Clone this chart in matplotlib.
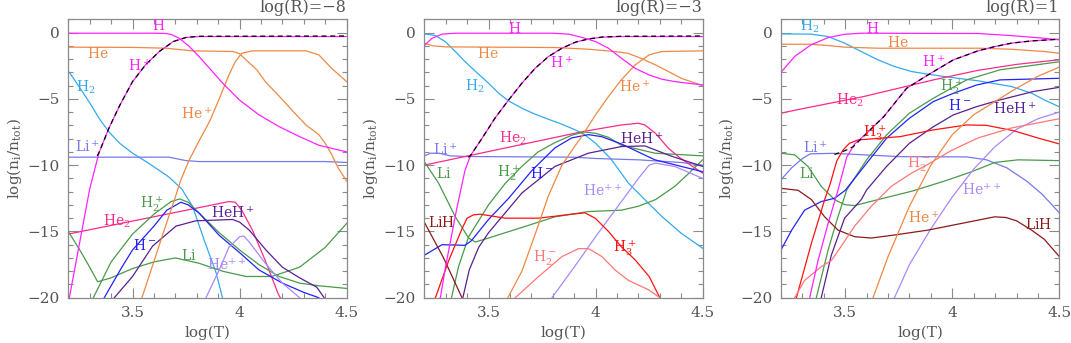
import matplotlib
matplotlib.use("Agg")
import matplotlib.pyplot as plt
from matplotlib.ticker import MultipleLocator

plt.rcParams['font.family'] = ['DejaVu Serif']
plt.rcParams['mathtext.fontset'] = 'dejavuserif'

# ---------------- data: (log T, log n_i/n_tot) ----------------
# Panel 1: log(R) = -8
P1_H = [(3.2,-0.05),(3.4,-0.05),(3.6,-0.05),(3.656,-0.07),(3.68,-0.14),(3.718,-0.43),(3.765,-1.05),(3.81,-1.8),(3.86,-2.7),(3.92,-3.8),(4.0,-5.1),(4.09,-6.2),(4.185,-7.1),(4.28,-7.85),(4.37,-8.5),(4.5,-9.0)]
P1_Hp = [(3.205,-20),(3.25,-16.1),(3.3,-11.8),(3.33,-9.9),(3.345,-9.0),(3.39,-7.2),(3.44,-5.5),(3.5,-3.7),(3.56,-2.45),(3.625,-1.43),(3.69,-0.68),(3.75,-0.37),(3.81,-0.3),(4.5,-0.3)]
P1_e = [(3.335,-9.3),(3.345,-9.0),(3.39,-7.2),(3.44,-5.5),(3.5,-3.7),(3.56,-2.45),(3.625,-1.43),(3.69,-0.68),(3.75,-0.37),(3.81,-0.28),(4.5,-0.26)]
P1_He = [(3.2,-1.1),(3.5,-1.12),(3.656,-1.18),(3.78,-1.38),(3.97,-1.43),(4.0,-1.6),(4.03,-2.06),(4.08,-2.8),(4.12,-3.7),(4.185,-4.8),(4.25,-5.95),(4.31,-6.97),(4.37,-7.7),(4.4,-8.35),(4.43,-9.2),(4.46,-10.2),(4.5,-11.2)]
P1_Hep = [(3.544,-20),(3.6,-17.26),(3.65,-14.8),(3.7,-12.4),(3.726,-11.1),(3.765,-9.6),(3.81,-8.2),(3.86,-6.7),(3.905,-5.0),(3.95,-3.2),(3.98,-2.2),(4.01,-1.56),(4.06,-1.38),(4.31,-1.38),(4.37,-1.68),(4.43,-2.7),(4.5,-3.7)]
P1_H2 = [(3.205,-3.0),(3.25,-4.07),(3.3,-5.3),(3.345,-6.5),(3.39,-7.5),(3.44,-8.35),(3.5,-9.1),(3.56,-9.7),(3.625,-10.4),(3.67,-10.9),(3.71,-11.5),(3.73,-11.8),(3.78,-13.1),(3.84,-15.9),(3.89,-18.1),(3.92,-20)]
P1_Lip = [(3.2,-9.4),(3.67,-9.4),(3.75,-9.66),(3.81,-9.73),(4.4,-9.73),(4.5,-9.8)]
P1_He2 = [(3.2,-15.2),(3.95,-12.75),(3.98,-12.8),(4.01,-13.4),(4.06,-14.9),(4.12,-17.2),(4.18,-19.7),(4.19,-20)]
P1_H2p = [(3.317,-20),(3.4,-17.3),(3.5,-15.2),(3.6,-13.7),(3.68,-12.75),(3.72,-12.55),(3.76,-12.8),(3.81,-13.6),(3.905,-15.1),(4.0,-16.4),(4.09,-17.5),(4.185,-18.4),(4.28,-18.9),(4.37,-19.1),(4.5,-19.3)]
P1_Li = [(3.2,-15.0),(3.25,-16.3),(3.3,-17.7),(3.337,-18.8),(3.4,-18.5),(3.5,-17.8),(3.6,-17.3),(3.7,-17.0),(3.81,-17.4),(3.92,-18.0),(4.03,-18.4),(4.15,-18.4),(4.28,-17.7),(4.4,-16.2),(4.5,-14.4)]
P1_Hm = [(3.368,-20),(3.45,-17.7),(3.5,-16.4),(3.6,-14.6),(3.66,-13.4),(3.726,-12.8),(3.76,-13.0),(3.81,-13.6),(3.905,-15.3),(4.0,-16.6),(4.09,-17.9),(4.2,-18.9),(4.3,-19.6),(4.37,-20)]
P1_HeHp = [(3.415,-20),(3.5,-18.4),(3.594,-16.1),(3.703,-14.6),(3.796,-14.2),(3.967,-14.1),(4.0,-14.3),(4.045,-14.9),(4.123,-16.4),(4.2,-17.7),(4.28,-18.5),(4.36,-19.2),(4.395,-20)]
P1_Hepp = [(3.843,-20),(3.905,-17.9),(3.95,-16.2),(4.0,-15.4),(4.02,-15.35),(4.045,-15.8),(4.12,-17.4),(4.2,-18.9),(4.28,-20)]

# Panel 2: log(R) = -3
P2_H = [(3.2,-0.98),(3.236,-0.43),(3.283,-0.12),(3.345,-0.05),(3.8,-0.05),(3.875,-0.12),(3.94,-0.38),(4.0,-0.68),(4.06,-1.18),(4.12,-1.93),(4.185,-2.7),(4.25,-3.2),(4.31,-3.52),(4.37,-3.7),(4.43,-3.82),(4.5,-3.95)]
P2_Hp = [(3.275,-20),(3.3,-17.6),(3.35,-13.4),(3.39,-10.4),(3.415,-9.3),(3.47,-7.97),(3.53,-6.46),(3.594,-5.08),(3.656,-3.82),(3.718,-2.69),(3.78,-1.81),(3.843,-1.18),(3.905,-0.73),(3.967,-0.48),(4.03,-0.35),(4.12,-0.3),(4.5,-0.3)]
P2_e = [(3.405,-9.4),(3.415,-9.3),(3.47,-7.97),(3.53,-6.46),(3.594,-5.08),(3.656,-3.82),(3.718,-2.69),(3.78,-1.81),(3.843,-1.18),(3.905,-0.73),(3.967,-0.48),(4.03,-0.34),(4.12,-0.28),(4.5,-0.26)]
P2_He = [(3.2,-0.8),(3.24,-1.0),(3.3,-1.08),(3.81,-1.13),(3.97,-1.26),(4.09,-1.43),(4.15,-1.56),(4.21,-1.93),(4.28,-2.44),(4.34,-2.94),(4.4,-3.45),(4.5,-4.0)]
P2_Hep = [(3.59,-20),(3.656,-18.0),(3.718,-15.2),(3.78,-12.3),(3.843,-10.0),(3.875,-9.23),(3.94,-7.72),(4.0,-6.2),(4.06,-4.83),(4.12,-3.57),(4.185,-2.44),(4.25,-1.68),(4.31,-1.43),(4.5,-1.38)]
P2_H2 = [(3.2,-0.1),(3.25,-0.22),(3.298,-0.68),(3.345,-1.43),(3.39,-2.19),(3.44,-2.94),(3.5,-3.82),(3.547,-4.57),(3.594,-5.16),(3.656,-5.71),(3.718,-6.16),(3.78,-6.54),(3.843,-6.92),(3.905,-7.34),(3.95,-7.72),(4.0,-8.35),(4.03,-8.85),(4.07,-9.5),(4.154,-11.37),(4.247,-12.88),(4.31,-13.88),(4.4,-15.14),(4.5,-16.27)]
P2_He2 = [(3.2,-10.0),(3.94,-7.47),(4.12,-6.97),(4.2,-6.84),(4.23,-6.97),(4.28,-7.6),(4.34,-8.73),(4.39,-9.4),(4.43,-9.85),(4.5,-10.6)]
P2_Lip = [(3.2,-9.3),(3.23,-9.1),(3.27,-9.1),(3.32,-9.3),(3.4,-9.35),(3.9,-9.4),(4.0,-9.5),(4.2,-9.6),(4.4,-9.8),(4.5,-10.0)]
P2_Li = [(3.2,-9.74),(3.267,-11.37),(3.345,-13.9),(3.407,-15.5),(3.438,-15.8),(3.5,-15.5),(3.656,-14.7),(3.81,-13.9),(3.967,-13.5),(4.12,-13.4),(4.2,-13.1),(4.28,-12.6),(4.37,-11.6),(4.43,-10.7),(4.5,-9.6)]
P2_H2p = [(3.327,-20),(3.36,-17.65),(3.407,-15.4),(3.5,-13.0),(3.577,-11.4),(3.655,-10.1),(3.732,-9.0),(3.81,-8.3),(3.888,-7.75),(3.946,-7.5),(4.0,-7.6),(4.06,-7.9),(4.12,-8.5),(4.277,-9.1),(4.5,-9.3)]
P2_Hm = [(3.2,-16.8),(3.283,-16.0),(3.39,-16.05),(3.42,-15.7),(3.5,-14.1),(3.594,-12.5),(3.703,-10.4),(3.81,-8.7),(3.888,-7.95),(3.966,-7.7),(4.028,-7.85),(4.12,-8.4),(4.277,-9.6),(4.5,-10.5)]
P2_HeHp = [(3.38,-20),(3.41,-17.9),(3.454,-16.2),(3.5,-15.1),(3.656,-12.1),(3.81,-10.1),(3.966,-9.1),(4.12,-8.6),(4.23,-8.55),(4.35,-9.3),(4.5,-10.1)]
P2_Hepp = [(3.796,-20),(3.9,-17.7),(4.0,-15.4),(4.1,-13.2),(4.2,-11.0),(4.25,-10.0),(4.28,-9.85),(4.37,-10.1),(4.5,-11.0)]
P2_LiH = [(3.2,-14.3),(3.29,-17.0),(3.376,-20)]
P2_H3p = [(3.252,-20),(3.314,-17.2),(3.376,-14.8),(3.40,-14.0),(3.43,-13.75),(3.46,-13.7),(3.5,-13.8),(3.578,-14.0),(3.734,-14.0),(3.89,-13.7),(3.95,-13.6),(3.998,-14.0),(4.06,-15.0),(4.12,-16.15),(4.185,-17.15),(4.25,-18.4),(4.3,-20)]
P2_H2m = [(3.625,-20),(3.734,-18.4),(3.843,-16.9),(3.92,-16.3),(3.967,-16.3),(4.03,-16.9),(4.09,-17.9),(4.154,-18.7),(4.247,-19.4),(4.3,-20)]

# Panel 3: log(R) = 1
P3_H2 = [(3.2,-0.1),(3.34,-0.12),(3.42,-0.3),(3.497,-0.8),(3.575,-1.43),(3.653,-2.06),(3.73,-2.56),(3.81,-2.94),(3.886,-3.14),(3.964,-3.32),(4.12,-3.64),(4.276,-4.07),(4.37,-4.57),(4.43,-5.08),(4.5,-5.6)]
P3_H = [(3.2,-3.0),(3.264,-1.8),(3.34,-0.93),(3.42,-0.38),(3.497,-0.13),(3.575,-0.05),(4.12,-0.07),(4.276,-0.23),(4.43,-0.43),(4.5,-0.55)]
P3_He = [(3.2,-0.88),(3.34,-0.88),(3.42,-0.98),(3.497,-1.1),(3.65,-1.18),(4.12,-1.18),(4.276,-1.26),(4.43,-1.43),(4.5,-1.56)]
P3_Hp = [(3.334,-20),(3.373,-17.2),(3.42,-14.4),(3.466,-11.9),(3.507,-9.4),(3.544,-8.4),(3.6,-7.6),(3.68,-6.34),(3.787,-4.2),(3.887,-3.19),(4.005,-2.06),(4.12,-1.38),(4.198,-1.06),(4.276,-0.8),(4.37,-0.63),(4.5,-0.5)]
P3_e = [(3.45,-9.2),(3.5,-8.9),(3.538,-8.6),(3.6,-7.6),(3.68,-6.34),(3.787,-4.2),(3.887,-3.19),(4.005,-2.06),(4.12,-1.38),(4.198,-1.06),(4.276,-0.8),(4.37,-0.63),(4.5,-0.5)]
P3_He2 = [(3.2,-6.08),(3.289,-5.78),(3.585,-4.83),(3.912,-3.57),(4.12,-2.85),(4.3,-2.4),(4.5,-2.05)]
P3_H2p = [(3.365,-20),(3.42,-16.4),(3.466,-13.9),(3.507,-11.87),(3.6,-9.6),(3.693,-7.72),(3.8,-6.08),(3.912,-4.95),(4.067,-3.57),(4.223,-2.81),(4.5,-2.2)]
P3_Hm = [(3.2,-16.4),(3.25,-14.9),(3.31,-13.4),(3.388,-12.75),(3.45,-12.5),(3.5,-11.9),(3.6,-9.86),(3.693,-7.97),(3.8,-6.46),(3.912,-5.2),(4.005,-4.58),(4.115,-3.95),(4.223,-3.57),(4.5,-3.45)]
P3_HeHp = [(3.388,-20),(3.435,-16.8),(3.497,-14.0),(3.575,-12.6),(3.6,-11.87),(3.693,-10.1),(3.8,-8.35),(3.912,-7.1),(4.005,-6.21),(4.115,-5.58),(4.223,-5.08),(4.378,-4.45),(4.5,-4.13)]
P3_H3p = [(3.272,-20),(3.342,-15.9),(3.404,-12.6),(3.43,-11.4),(3.46,-9.7),(3.49,-8.85),(3.52,-8.35),(3.56,-8.1),(3.6,-8.05),(3.756,-7.85),(3.912,-7.34),(4.067,-6.97),(4.16,-7.0),(4.285,-7.4),(4.41,-8.0),(4.5,-8.4)]
P3_Lip = [(3.2,-11.1),(3.25,-10.2),(3.3,-9.5),(3.336,-9.15),(3.445,-9.11),(3.756,-9.36),(4.067,-9.38),(4.16,-9.6),(4.254,-10.2),(4.347,-11.2),(4.42,-12.2),(4.5,-13.6)]
P3_Li = [(3.2,-9.1),(3.264,-9.23),(3.326,-10.1),(3.388,-11.6),(3.45,-12.6),(3.497,-12.98),(3.544,-13.05),(3.653,-12.6),(3.81,-11.97),(3.964,-11.2),(4.09,-10.5),(4.198,-9.8),(4.307,-9.6),(4.5,-9.66)]
P3_H2m = [(3.264,-20),(3.31,-18.7),(3.388,-17.66),(3.435,-17.2),(3.482,-16.1),(3.544,-14.6),(3.622,-13.1),(3.715,-11.6),(3.81,-10.6),(3.88,-10.0),(3.995,-8.9),(4.12,-7.95),(4.276,-7.2),(4.5,-6.5)]
P3_LiH = [(3.2,-11.75),(3.28,-11.9),(3.342,-12.6),(3.404,-13.9),(3.466,-14.9),(3.544,-15.4),(3.622,-15.5),(3.73,-15.27),(3.887,-14.9),(4.042,-14.4),(4.198,-13.9),(4.25,-13.95),(4.3,-14.2),(4.37,-14.9),(4.43,-15.6),(4.5,-16.9)]
P3_Hep = [(3.63,-20),(3.7,-16.9),(3.8,-13.1),(3.9,-10.0),(4.0,-7.7),(4.1,-6.2),(4.2,-5.2),(4.3,-4.2),(4.4,-3.3),(4.5,-2.6)]
P3_Hepp = [(3.73,-20),(3.8,-17.5),(3.9,-14.8),(4.0,-12.4),(4.1,-10.3),(4.2,-8.6),(4.3,-7.3),(4.4,-6.5),(4.5,-6.0)]

PANEL_TITLES = ['log(R)=\u22128', 'log(R)=\u22123', 'log(R)=1']
Y_TICKS = [0, -5, -10, -15, -20]
X_TICKS = [3.5, 4.0, 4.5]
X_TICKLABELS = ['3.5', '4', '4.5']

# ---------------- styles ----------------
COL = {
    'H': '#ff22ff', 'Hp': '#ff22ff', 'He': '#ee8844', 'Hep': '#ee8844',
    'H2': '#33aaee', 'Lip': '#7777ee', 'He2': '#ff2a88', 'H2p': '#4a9a4a',
    'Li': '#4a9a4a', 'Hm': '#2222ff', 'HeHp': '#5a2090', 'Hepp': '#aa88ff',
    'LiH': '#8b1a1a', 'H3p': '#ff1111', 'H2m': '#ff7777',
}
TXT = {
    'H': r'$\mathrm{H}$', 'Hp': r'$\mathrm{H^+}$', 'He': r'$\mathrm{He}$', 'Hep': r'$\mathrm{He^+}$',
    'H2': r'$\mathrm{H_2}$', 'Lip': r'$\mathrm{Li^+}$', 'He2': r'$\mathrm{He_2}$', 'H2p': r'$\mathrm{H_2^+}$',
    'Li': r'$\mathrm{Li}$', 'Hm': r'$\mathrm{H^-}$', 'HeHp': r'$\mathrm{HeH^+}$', 'Hepp': r'$\mathrm{He^{++}}$',
    'LiH': r'$\mathrm{LiH}$', 'H3p': r'$\mathrm{H_3^+}$', 'H2m': r'$\mathrm{H_2^-}$',
}

PANELS = [
    ({'H2': P1_H2, 'Lip': P1_Lip, 'He2': P1_He2, 'Li': P1_Li, 'H2p': P1_H2p, 'Hm': P1_Hm,
      'HeHp': P1_HeHp, 'Hepp': P1_Hepp, 'He': P1_He, 'Hep': P1_Hep, 'H': P1_H, 'Hp': P1_Hp}, P1_e),
    ({'H2': P2_H2, 'Lip': P2_Lip, 'He2': P2_He2, 'Li': P2_Li, 'H2p': P2_H2p, 'Hm': P2_Hm,
      'HeHp': P2_HeHp, 'Hepp': P2_Hepp, 'LiH': P2_LiH, 'H3p': P2_H3p, 'H2m': P2_H2m,
      'He': P2_He, 'Hep': P2_Hep, 'H': P2_H, 'Hp': P2_Hp}, P2_e),
    ({'H2': P3_H2, 'Lip': P3_Lip, 'He2': P3_He2, 'Li': P3_Li, 'H2p': P3_H2p, 'Hm': P3_Hm,
      'HeHp': P3_HeHp, 'Hepp': P3_Hepp, 'LiH': P3_LiH, 'H3p': P3_H3p, 'H2m': P3_H2m,
      'He': P3_He, 'Hep': P3_Hep, 'H': P3_H, 'Hp': P3_Hp}, P3_e),
]

# label anchor positions (T, value) per panel
LABELS = [
    [('H',3.62,0.5),('He',3.34,-1.6),('Hp',3.535,-2.5),('H2',3.283,-4.1),('Hep',3.80,-6.1),
     ('Lip',3.289,-8.6),('He2',3.426,-14.2),('H2p',3.59,-12.9),('HeHp',3.97,-13.6),
     ('Hm',3.558,-16.1),('Li',3.76,-16.8),('Hepp',3.94,-17.5)],
    [('H',3.623,0.33),('He',3.499,-1.56),('Hp',3.841,-2.31),('H2',3.437,-4.07),('Hep',4.184,-4.07),
     ('He2',3.612,-8.0),('HeHp',4.215,-7.97),('Lip',3.297,-8.85),('H2p',3.592,-10.6),
     ('Hm',3.748,-10.6),('Li',3.289,-10.6),('Hepp',4.036,-11.9),('LiH',3.281,-14.3),
     ('H3p',4.137,-16.2),('H2m',3.763,-17.0)],
    [('H2',3.335,0.5),('H',3.626,0.33),('He',3.748,-0.75),('Hp',3.911,-2.19),('He2',3.522,-5.08),
     ('H2p',3.997,-4.07),('Hm',4.036,-5.53),('HeHp',4.293,-5.71),('H3p',3.639,-7.59),
     ('Lip',3.359,-8.72),('Li',3.32,-10.6),('H2m',3.841,-9.86),('Hepp',4.137,-11.87),
     ('Hep',3.865,-14.0),('LiH',4.402,-14.5)],
]

GRAY = '#555555'
SPINE = '#8a8a8a'

fig = plt.figure(figsize=(10.71, 3.43), dpi=100)
lefts = [0.06377, 0.39617, 0.72922]
for i, (curves, elec) in enumerate(PANELS):
    ax = fig.add_axes([lefts[i], 0.13207, 0.2599, 0.81166])
    for key, pts in curves.items():
        xs = [p[0] for p in pts]
        ys = [p[1] for p in pts]
        ax.plot(xs, ys, color=COL[key], lw=0.9, solid_joinstyle='round')
    ax.plot([p[0] for p in elec], [p[1] for p in elec], color='black', lw=0.9,
            linestyle=(0, (4, 3)))
    for key, tx, ty in LABELS[i]:
        ax.text(tx, ty, TXT[key], color=COL[key], fontsize=10, ha='center', va='center')
    ax.set_xlim(3.2, 4.5)
    ax.set_ylim(-20, 1)
    ax.set_xticks(X_TICKS)
    ax.set_xticklabels(X_TICKLABELS)
    ax.set_yticks(Y_TICKS)
    ax.set_yticklabels(['0' if v == 0 else '\u2212%d' % (-v) for v in Y_TICKS])
    ax.xaxis.set_minor_locator(MultipleLocator(0.1))
    ax.yaxis.set_minor_locator(MultipleLocator(1))
    ax.tick_params(which='both', direction='in', top=True, right=True, colors=SPINE,
                   labelcolor=GRAY, labelsize=11, width=0.8)
    ax.tick_params(which='major', length=7, pad=6)
    ax.tick_params(which='minor', length=3.5)
    for s in ax.spines.values():
        s.set_color(SPINE)
        s.set_linewidth(0.9)
    ax.set_xlabel('log(T)', color=GRAY, fontsize=11, labelpad=4)
    ax.set_ylabel(r'$\mathrm{log(n_i/n_{tot})}$', color=GRAY, fontsize=11, labelpad=3)
    ax.text(1.0, 1.012, PANEL_TITLES[i], transform=ax.transAxes, ha='right', va='bottom',
            color=GRAY, fontsize=11.5)

fig.savefig('out.png', dpi=100)
